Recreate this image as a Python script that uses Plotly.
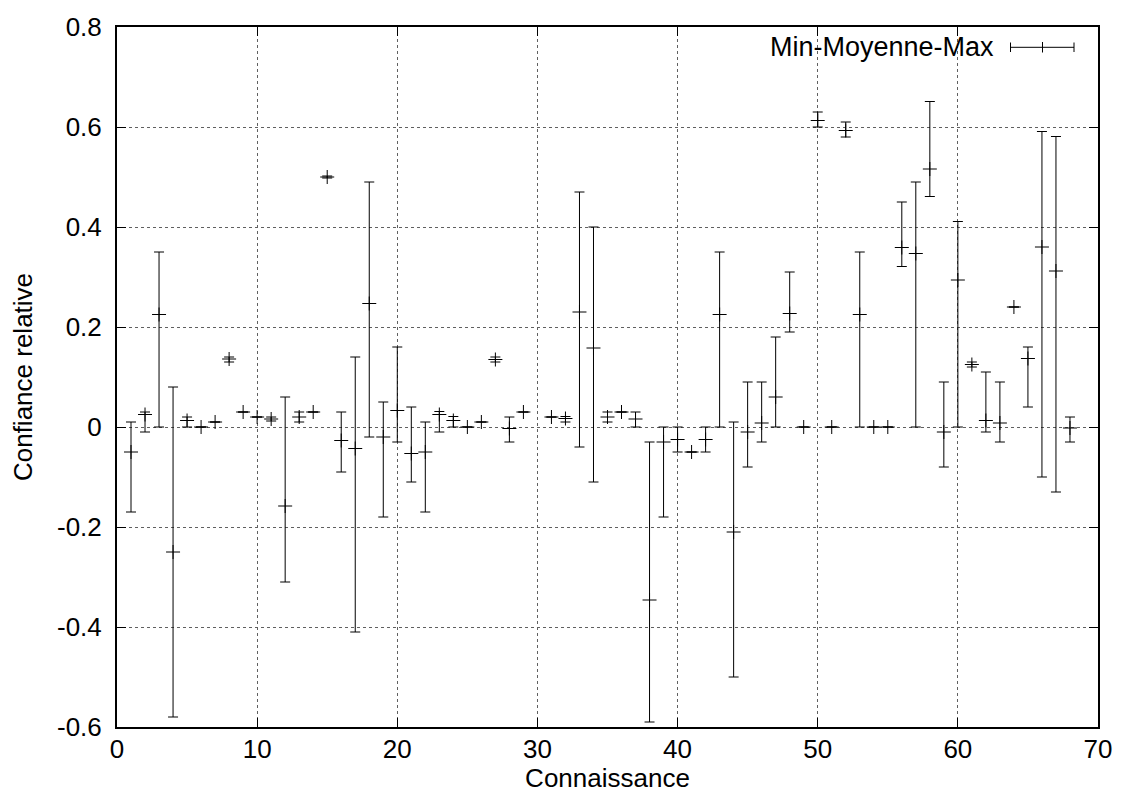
import plotly.graph_objects as go

# Data
connaissance = [1, 2, 3, 4, 5, 6, 7, 8, 9, 10, 11, 12, 13, 14, 15, 16, 17, 18, 19, 20,
                21, 22, 23, 24, 25, 26, 27, 28, 29, 31, 32, 33, 34, 35, 36, 37, 38, 39, 40,
                41, 42, 43, 44, 45, 46, 47, 48, 49, 50, 51, 52, 53, 54, 55, 56, 57, 58, 59,
                60, 61, 62, 63, 64, 65, 66, 67, 68]
val_min = [-0.17, -0.01, 0.0, -0.58, 0.0, 0.0, 0.01, 0.13, 0.03, 0.02, 0.012, -0.31, 0.01, 0.03, 0.498,
           -0.09, -0.41, -0.02, -0.18, -0.03, -0.11, -0.17, -0.01, 0.0, 0.0, 0.01, 0.13, -0.03, 0.03,
           0.02, 0.01, -0.04, -0.11, 0.01, 0.03, 0.0, -0.59, -0.18, -0.05, -0.05, -0.05, 0.0, -0.5,
           -0.08, -0.03, 0.0, 0.19, 0.0, 0.60, 0.0, 0.58, 0.0, 0.0, 0.0, 0.321, 0.0, 0.461, -0.08,
           0.0, 0.12, -0.01, -0.03, 0.24, 0.04, -0.10, -0.13, -0.03]
val_mean = [-0.05, 0.025, 0.225, -0.25, 0.013, 0.0, 0.01, 0.136, 0.03, 0.02, 0.016, -0.158, 0.02, 0.03, 0.5,
            -0.027, -0.043, 0.247, -0.02, 0.033, -0.053, -0.05, 0.025, 0.013, 0.0, 0.01, 0.135, -0.003, 0.03,
            0.02, 0.017, 0.23, 0.158, 0.02, 0.03, 0.016, -0.346, -0.03, -0.025, -0.05, -0.025, 0.225, -0.21,
            -0.01, 0.008, 0.06, 0.227, 0.0, 0.613, 0.0, 0.593, 0.225, 0.0, 0.0, 0.359, 0.347, 0.516, -0.01,
            0.294, 0.125, 0.013, 0.008, 0.24, 0.137, 0.36, 0.312, -0.002]
val_max = [0.01, 0.03, 0.35, 0.08, 0.02, 0.0, 0.01, 0.14, 0.03, 0.02, 0.02, 0.06, 0.03, 0.03, 0.502,
           0.03, 0.14, 0.49, 0.05, 0.16, 0.04, 0.01, 0.031, 0.021, 0.0, 0.01, 0.14, 0.02, 0.03,
           0.02, 0.021, 0.47, 0.40, 0.03, 0.03, 0.03, -0.03, 0.0, 0.0, -0.05, 0.0, 0.35, 0.01,
           0.09, 0.09, 0.18, 0.31, 0.0, 0.63, 0.0, 0.61, 0.35, 0.0, 0.0, 0.45, 0.49, 0.651, 0.09,
           0.411, 0.13, 0.11, 0.09, 0.24, 0.16, 0.591, 0.581, 0.02]

x_ticks = [0, 10, 20, 30, 40, 50, 60, 70]
y_ticks = [-0.6, -0.4, -0.2, 0, 0.2, 0.4, 0.6, 0.8]
y_ticktext = ["-0.6", "-0.4", "-0.2", "0", "0.2", "0.4", "0.6", "0.8"]

err_plus = [mx - m for mx, m in zip(val_max, val_mean)]
err_minus = [m - mn for mn, m in zip(val_min, val_mean)]

FONT = "Liberation Sans, Arial, Helvetica, sans-serif"
FS = 26

fig = go.Figure()
fig.add_trace(go.Scatter(
    x=connaissance, y=val_mean, mode="markers", name="Min-Moyenne-Max",
    marker=dict(symbol="cross-thin", size=10, line=dict(width=1, color="black"), color="black"),
    error_y=dict(type="data", symmetric=False, array=err_plus, arrayminus=err_minus,
                 color="black", thickness=1, width=5),
    showlegend=False,
))

# Legend (gnuplot style: text then sample on the right)
def px2x(px):
    return (px - 117) / 981.0

def py2y(py):
    return (727 - py) / 700.0

ly = py2y(47.3)
shapes = [
    dict(type="line", xref="paper", yref="paper", x0=px2x(1010.5), x1=px2x(1074), y0=ly, y1=ly,
         line=dict(color="black", width=1)),
    dict(type="line", xref="paper", yref="paper", x0=px2x(1010.5), x1=px2x(1010.5),
         y0=py2y(42.5), y1=py2y(52), line=dict(color="black", width=1)),
    dict(type="line", xref="paper", yref="paper", x0=px2x(1074), x1=px2x(1074),
         y0=py2y(42.5), y1=py2y(52), line=dict(color="black", width=1)),
    dict(type="line", xref="paper", yref="paper", x0=px2x(1042.5), x1=px2x(1042.5),
         y0=py2y(42), y1=py2y(52.5), line=dict(color="black", width=1)),
]

# page body has an 8px margin: figure is sized so the plot area lands at 117..1098 x 27..727
fig.update_layout(
    width=1115, height=785,
    margin=dict(l=109, r=25, t=19, b=66),
    paper_bgcolor="white", plot_bgcolor="white",
    font=dict(family=FONT, size=FS, color="black"),
    shapes=shapes,
    annotations=[dict(text="Min-Moyenne-Max", xref="paper", yref="paper",
                      x=px2x(996), y=ly, xanchor="right", yanchor="middle",
                      showarrow=False, font=dict(family=FONT, size=27, color="black"))],
)

axis_common = dict(
    showline=True, linecolor="black", linewidth=2, mirror="allticks",
    ticks="inside", ticklen=9, tickwidth=1, tickcolor="black",
    showgrid=True, gridcolor="#606060", griddash="dot", gridwidth=1,
    zeroline=False, tickfont=dict(family=FONT, size=FS, color="black"),
    automargin=False,
)

fig.update_xaxes(range=[0, 70], tickvals=x_ticks, ticklabelstandoff=-2,
                 title=dict(text="Connaissance", font=dict(family=FONT, size=FS), standoff=4),
                 **axis_common)
fig.update_yaxes(range=[-0.6, 0.8], tickvals=y_ticks, ticktext=y_ticktext,
                 ticklabelstandoff=8,
                 title=dict(text="Confiance relative", font=dict(family=FONT, size=FS), standoff=18),
                 **axis_common)

fig.write_html("out.html")
